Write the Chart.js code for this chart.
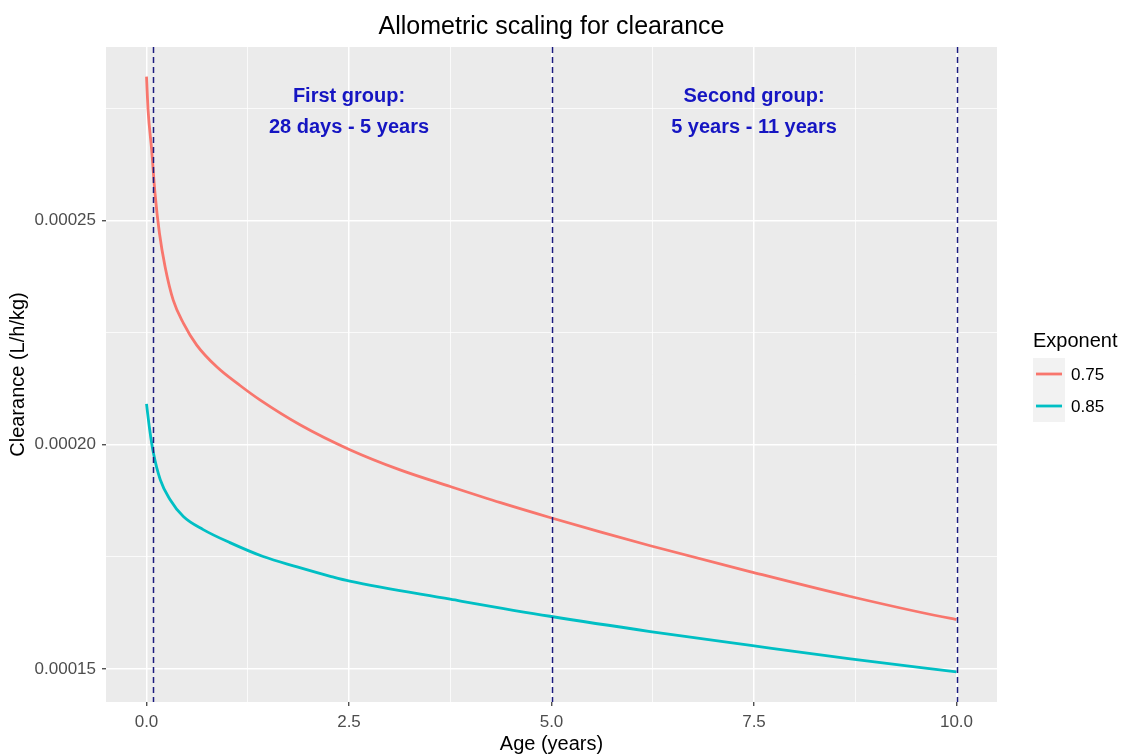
<!DOCTYPE html>
<html><head><meta charset="utf-8">
<script src="https://cdn.jsdelivr.net/npm/chart.js@4/dist/chart.umd.min.js"></script>
<style>html,body{margin:0;padding:0;background:#fff}</style>
</head><body>
<canvas id="c" width="1121" height="756"></canvas>
<script>
// ---- data ----
const ages075 = [0, 0.02, 0.064, 0.105, 0.16, 0.23, 0.33, 0.455, 0.62, 0.87, 1.155, 1.40, 1.90, 2.51, 3.13, 3.75, 4.37, 4.98, 5.60, 6.22, 7.46, 8.69, 9.93, 10.0];
const clearance075 = [0.000282, 0.0002744, 0.0002656, 0.000256, 0.0002471, 0.0002396, 0.0002322, 0.0002271, 0.0002222, 0.0002173, 0.0002132, 0.00021, 0.0002044, 0.0001989, 0.0001944, 0.0001907, 0.0001871, 0.0001838, 0.0001806, 0.0001775, 0.0001717, 0.0001662, 0.0001613, 0.0001611];
const ages085 = [0, 0.04, 0.085, 0.17, 0.29, 0.455, 0.70, 1.03, 1.44, 1.86, 2.27, 2.51, 3.75, 4.98, 6.22, 7.46, 8.69, 10.0];
const clearance085 = [0.0002091, 0.0002033, 0.0001982, 0.0001922, 0.0001878, 0.000184, 0.0001811, 0.0001782, 0.0001751, 0.0001728, 0.0001707, 0.0001696, 0.0001656, 0.0001618, 0.0001584, 0.0001553, 0.0001523, 0.0001494];
const seriesLabels = ['0.75', '0.85'];
const xTicks = [0, 2.5, 5, 7.5, 10];
const xMinor = [1.25, 3.75, 6.25, 8.75];
const yTicks = [0.00015, 0.00020, 0.00025];
const yMinor = [0.000175, 0.000225, 0.000275];
const groupBounds = [28 / 365, 5, 10];
const groupLabelX = [2.5, 7.5];
const groupLabelY = 0.0002742;
const groupLabelText = [['First group:', '28 days - 5 years'], ['Second group:', '5 years - 11 years']];
const legendTitle = 'Exponent';

const FONT = "'Liberation Sans', Arial, sans-serif";
const COLORS = ['#F8766D', '#00BFC4'];
const near = (a, b) => Math.abs(a - b) < 1e-9;
const isMajor = (list, v) => list.some(t => near(t, v));

const panelPlugin = {
  id: 'panel',
  beforeDraw(chart) {
    const {ctx, chartArea: a} = chart;
    ctx.save();
    ctx.fillStyle = '#EBEBEB';
    ctx.fillRect(a.left, a.top, a.right - a.left, a.bottom - a.top);
    ctx.restore();
  },
  afterDatasetsDraw(chart) {
    const {ctx, chartArea: a, scales: {x, y}} = chart;
    ctx.save();
    ctx.beginPath();
    ctx.rect(a.left, a.top, a.right - a.left, a.bottom - a.top);
    ctx.clip();
    ctx.strokeStyle = '#1A1A7E';
    ctx.lineWidth = 1.5;
    ctx.setLineDash([6, 4]);
    groupBounds.forEach(b => {
      const px = Math.round(x.getPixelForValue(b)) + 0.5;
      ctx.beginPath();
      ctx.moveTo(px, a.top);
      ctx.lineTo(px, a.bottom);
      ctx.stroke();
    });
    ctx.setLineDash([]);
    ctx.fillStyle = '#1515C2';
    ctx.font = 'bold 20px ' + FONT;
    ctx.textAlign = 'center';
    ctx.textBaseline = 'middle';
    groupLabelX.forEach((gx, i) => {
      const px = x.getPixelForValue(gx);
      const py = y.getPixelForValue(groupLabelY);
      ctx.fillText(groupLabelText[i][0], px, py - 15.5);
      ctx.fillText(groupLabelText[i][1], px, py + 15.5);
    });
    ctx.restore();
  },
  afterDraw(chart) {
    const {ctx} = chart;
    ctx.save();
    ctx.fillStyle = '#000';
    ctx.font = '20px ' + FONT;
    ctx.textAlign = 'left';
    ctx.textBaseline = 'middle';
    ctx.fillText(legendTitle, 1033, 341);
    chart.data.datasets.forEach((ds, i) => {
      const top = 358 + i * 32;
      ctx.fillStyle = '#F2F2F2';
      ctx.fillRect(1033, top, 32, 32);
      ctx.strokeStyle = ds.borderColor;
      ctx.lineWidth = 2.8;
      ctx.beginPath();
      ctx.moveTo(1036, top + 16);
      ctx.lineTo(1062, top + 16);
      ctx.stroke();
      ctx.fillStyle = '#000';
      ctx.font = '17px ' + FONT;
      ctx.fillText(ds.label, 1071, top + 17);
    });
    ctx.restore();
  }
};

const gridCfg = (major) => ({
  color: '#FFFFFF',
  lineWidth: c => (c.tick && isMajor(major, c.tick.value)) ? 1.5 : 0.75,
  tickColor: c => (c.tick && isMajor(major, c.tick.value)) ? '#333333' : 'rgba(0,0,0,0)',
  tickLength: 4,
  tickWidth: 1.2,
  drawTicks: true
});

new Chart(document.getElementById('c'), {
  type: 'line',
  data: {
    datasets: [
      {label: seriesLabels[0], data: ages075.map((a, i) => ({x: a, y: clearance075[i]})), borderColor: COLORS[0], borderWidth: 2.8, pointRadius: 0, cubicInterpolationMode: 'monotone', fill: false},
      {label: seriesLabels[1], data: ages085.map((a, i) => ({x: a, y: clearance085[i]})), borderColor: COLORS[1], borderWidth: 2.8, pointRadius: 0, cubicInterpolationMode: 'monotone', fill: false}
    ]
  },
  options: {
    responsive: false,
    animation: false,
    layout: {padding: {left: 0, right: 124, top: 0, bottom: 0}},
    plugins: {
      legend: {display: false},
      tooltip: {enabled: false},
      title: {
        display: true, fullSize: false,
        text: 'Allometric scaling for clearance',
        color: '#000',
        font: {family: FONT, size: 25, weight: 'normal'},
        padding: {top: 12.5, bottom: 4.5}
      }
    },
    scales: {
      x: {
        type: 'linear', min: -0.5, max: 10.5,
        afterBuildTicks: s => { s.ticks = [...xTicks, ...xMinor].sort((a, b) => a - b).map(v => ({value: v})); },
        afterFit: s => { s.height = 54; },
        ticks: {
          autoSkip: false, maxRotation: 0, padding: 6, color: '#4D4D4D',
          font: {family: FONT, size: 17},
          callback: v => isMajor(xTicks, v) ? v.toFixed(1) : ''
        },
        grid: gridCfg(xTicks),
        border: {display: false},
        title: {display: true, text: 'Age (years)', color: '#000', font: {family: FONT, size: 20}, padding: {top: 0, bottom: 0}}
      },
      y: {
        type: 'linear', min: 0.0001427, max: 0.0002886,
        afterBuildTicks: s => { s.ticks = [...yTicks, ...yMinor].sort((a, b) => a - b).map(v => ({value: v})); },
        afterFit: s => { s.width = 106; },
        ticks: {
          autoSkip: false, padding: 6, color: '#4D4D4D',
          font: {family: FONT, size: 17},
          callback: v => isMajor(yTicks, v) ? v.toFixed(5) : ''
        },
        grid: gridCfg(yTicks),
        border: {display: false},
        title: {display: true, text: 'Clearance (L/h/kg)', color: '#000', font: {family: FONT, size: 20}, padding: {top: 6, bottom: 0}}
      }
    }
  },
  plugins: [panelPlugin]
});
</script>
</body></html>
